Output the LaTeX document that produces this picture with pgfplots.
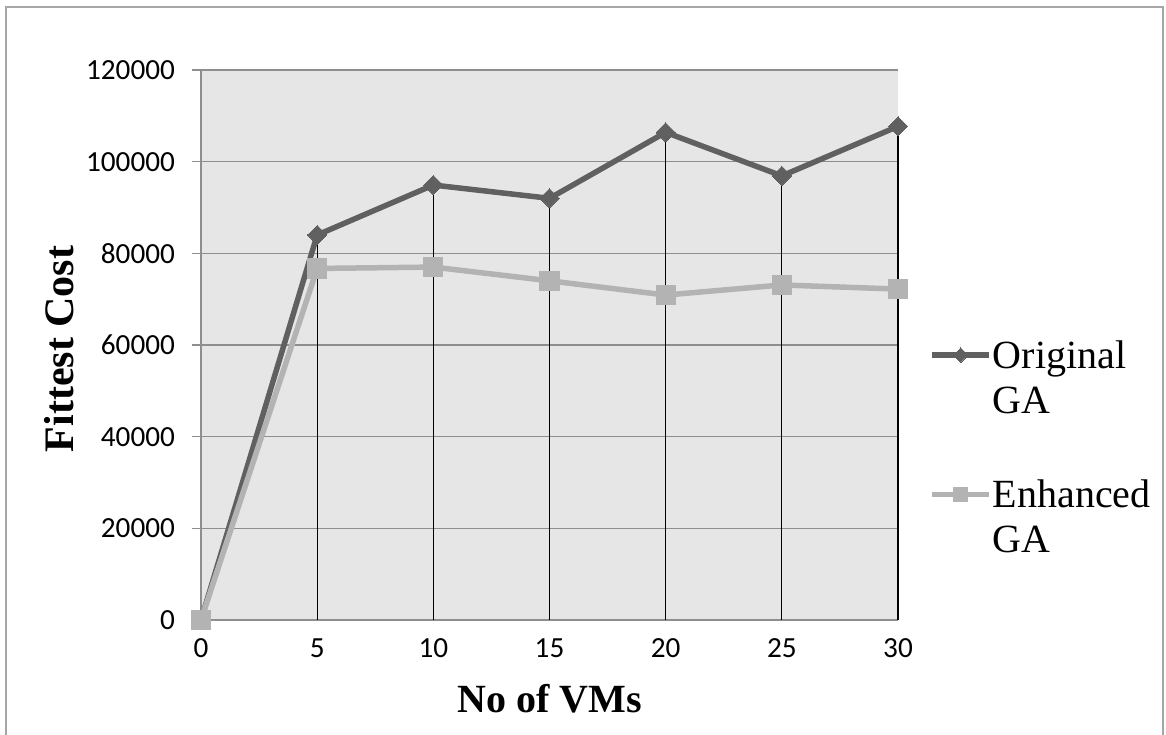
\documentclass[border=0pt]{standalone}
\usepackage{fontspec}
\setmainfont{Liberation Serif}
\newfontfamily\carlito{Carlito}
\usepackage{pgfplots}
\pgfplotsset{compat=1.18}

\definecolor{origgray}{HTML}{606060}
\definecolor{enhgray}{HTML}{B3B3B3}
\definecolor{plotbg}{HTML}{E6E6E6}
\definecolor{gridgray}{HTML}{8E8E8E}
\definecolor{framegray}{HTML}{A6A6A6}

% Fittest cost per number of VMs
\pgfplotstableread{
vms  original  enhanced
0    0         0
5    84000     76700
10   94900     77000
15   92000     74000
20   106400    70900
25   96900     73100
30   107700    72200
}\costdata

\begin{document}
\begin{tikzpicture}
\useasboundingbox (-100.5pt,-57pt) rectangle (482.5pt,310pt);
% chart frame
\draw[framegray, line width=1pt] (-97.25pt,-80pt) -- (-97.25pt,306.5pt) -- (481pt,306.5pt) -- (481pt,-80pt);
\begin{axis}[
  at={(0pt,0pt)}, anchor=south west,
  scale only axis, width=348.5pt, height=275pt,
  xmin=0, xmax=30, ymin=0, ymax=120000,
  xtick={0,5,...,30}, ytick={0,20000,...,120000},
  scaled y ticks=false,
  axis lines*=left,
  axis line style={-, color=gridgray, line width=0.75pt},
  axis background/.style={fill=plotbg},
  ymajorgrids, grid style={color=gridgray, line width=0.75pt},
  tick align=outside, major tick length=4.5pt,
  xtick style={draw=none},
  ytick style={color=gridgray, line width=0.75pt},
  tick label style={font=\carlito\fontsize{14.6}{17}\selectfont},
  /pgf/number format/assume math mode=true,
  yticklabel style={/pgf/number format/.cd, fixed, 1000 sep={}, /tikz/xshift=-5pt},
  xticklabel style={yshift=-1.3pt},
  xlabel={No of VMs},
  ylabel={Fittest Cost},
  xlabel style={font=\bfseries\fontsize{20}{24}\selectfont, at={(axis description cs:0.5,-0.1673)}, anchor=base},
  ylabel style={font=\bfseries\fontsize{21}{25}\selectfont, at={(axis description cs:-0.2035,0.4927)}, anchor=center, rotate=0},
  clip=false,
  legend style={draw=none, fill=none, inner sep=0pt, at={(1.0445,0.5155)}, anchor=north west,
    font=\fontsize{20}{22.5}\selectfont, row sep=52.5pt, column sep=0.5pt,
    nodes={inner sep=0pt}},
  legend cell align=left,
  legend image code/.code={\draw[#1, yshift=-0.5pt, line width=2.4pt] (0pt,0pt) -- (28.5pt,0pt);
    \draw[#1, yshift=-0.5pt, mark repeat=2, mark phase=2, mark size=0.75*\pgfplotmarksize] plot coordinates {(0pt,0pt) (14.25pt,0pt) (28.5pt,0pt)};},
]
\addplot[color=origgray, line width=2.75pt, line join=round,
  mark=square*, mark size=3.4pt, mark options={rotate=45, solid, fill=origgray, line width=0pt}]
  table[x=vms, y=original] {\costdata};
\addlegendentry{\begin{tabular}[t]{@{}l@{}}Original\\GA\end{tabular}}
\addplot[color=enhgray, line width=2.75pt, line join=round,
  mark=square*, mark size=4.8pt, mark options={solid, fill=enhgray, line width=0pt}]
  table[x=vms, y=enhanced] {\costdata};
\addlegendentry{\begin{tabular}[t]{@{}l@{}}Enhanced\\GA\end{tabular}}
% drop lines from the original series
\addplot[ycomb, black, line width=0.6pt, forget plot] table[x=vms, y=original] {\costdata};
\end{axis}
\end{tikzpicture}
\end{document}
